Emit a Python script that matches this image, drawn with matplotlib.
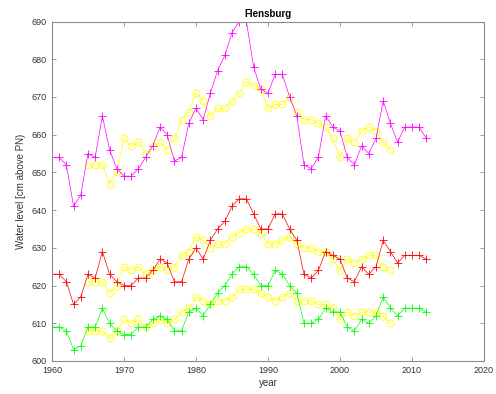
import numpy as np
import matplotlib
matplotlib.use("Agg")
import matplotlib.pyplot as plt

plt.rcParams['font.family'] = ['Liberation Sans', 'DejaVu Sans']

# yearly means, Flensburg gauge
years = np.arange(1960, 2013)
years_fit = np.arange(1965, 2008)

high = [654, 654, 652, 641, 644, 655, 654, 665, 656, 651,
        649, 649, 651, 654, 657, 662, 660, 653, 654, 663,
        667, 664, 671, 677, 681, 687, 690, 690, 678, 672,
        671, 676, 676, 670, 665, 652, 651, 654, 665, 662,
        661, 654, 652, 657, 655, 659, 669, 663, 658, 662,
        662, 662, 659]
mean = [623, 623, 621, 615, 617, 623, 622, 629, 623, 621,
        620, 620, 622, 622, 624, 627, 626, 621, 621, 627,
        630, 627, 632, 635, 637, 641, 643, 643, 639, 635,
        635, 639, 639, 635, 632, 623, 622, 624, 629, 628,
        627, 622, 621, 625, 623, 625, 632, 629, 626, 628,
        628, 628, 627]
low = [609, 609, 608, 603, 604, 609, 609, 614, 610, 608,
       607, 607, 609, 609, 611, 612, 611, 608, 608, 613,
       614, 612, 615, 618, 620, 623, 625, 625, 623, 620,
       620, 624, 623, 620, 618, 610, 610, 611, 614, 613,
       613, 609, 608, 611, 610, 612, 617, 614, 612, 614,
       614, 614, 613]

high_fit = [652, 652, 652, 647, 650, 659, 657, 658, 655, 657,
            658, 656, 659, 664, 666, 671, 669, 665, 667, 667,
            669, 671, 674, 673, 672, 667, 668, 668, 670, 666,
            664, 664, 663, 662, 659, 654, 659, 658, 661, 662,
            661, 658, 656]
mean_fit = [621, 621, 621, 618, 620, 625, 624, 625, 623, 624,
            625, 624, 625, 628, 629, 633, 632, 630, 631, 631,
            633, 634, 635, 635, 634, 631, 631, 632, 633, 631,
            630, 630, 629, 629, 627, 624, 627, 626, 627, 628,
            628, 625, 624]
low_fit = [608, 608, 608, 606, 608, 611, 610, 611, 609, 610,
           611, 610, 611, 613, 614, 617, 616, 615, 616, 616,
           617, 619, 619, 619, 618, 617, 616, 617, 618, 616,
           616, 616, 615, 615, 614, 611, 613, 612, 613, 613,
           613, 612, 610]

fig = plt.figure(figsize=(4.96, 3.94), dpi=100)
ax = fig.add_axes([0.1048, 0.0838, 0.871, 0.8616])

lw = 0.5
ax.plot(years_fit, high_fit, color='#ffff00', marker='o', ms=5, mfc='none', mew=0.6, lw=lw)
ax.plot(years_fit, mean_fit, color='#ffff00', marker='o', ms=5, mfc='none', mew=0.6, lw=lw)
ax.plot(years_fit, low_fit, color='#ffff00', marker='o', ms=5, mfc='none', mew=0.6, lw=lw)
ax.plot(years, high, color='#ff00ff', marker='+', ms=6, mew=0.6, lw=lw)
ax.plot(years, mean, color='#ff0000', marker='+', ms=6, mew=0.6, lw=lw)
ax.plot(years, low, color='#00ff00', marker='+', ms=6, mew=0.6, lw=lw)

ax.set_xlim(1960, 2020)
ax.set_ylim(600, 690)
ax.set_xticks(np.arange(1960, 2021, 10))
ax.set_yticks(np.arange(600, 691, 10))

for s in ax.spines.values():
    s.set_color('#8c8c8c')
    s.set_linewidth(0.8)
ax.tick_params(direction='in', length=3, width=0.6, colors='#8c8c8c',
               labelcolor='#333333', labelsize=6.5, top=True, right=True)

ax.set_title('Flensburg', fontsize=7, fontweight='bold', pad=3)
ax.set_xlabel('year', fontsize=7, color='#333333', labelpad=2)
ax.set_ylabel('Water level [cm above PN)', fontsize=7, color='#333333', labelpad=4)

fig.savefig('out.png', dpi=100)
